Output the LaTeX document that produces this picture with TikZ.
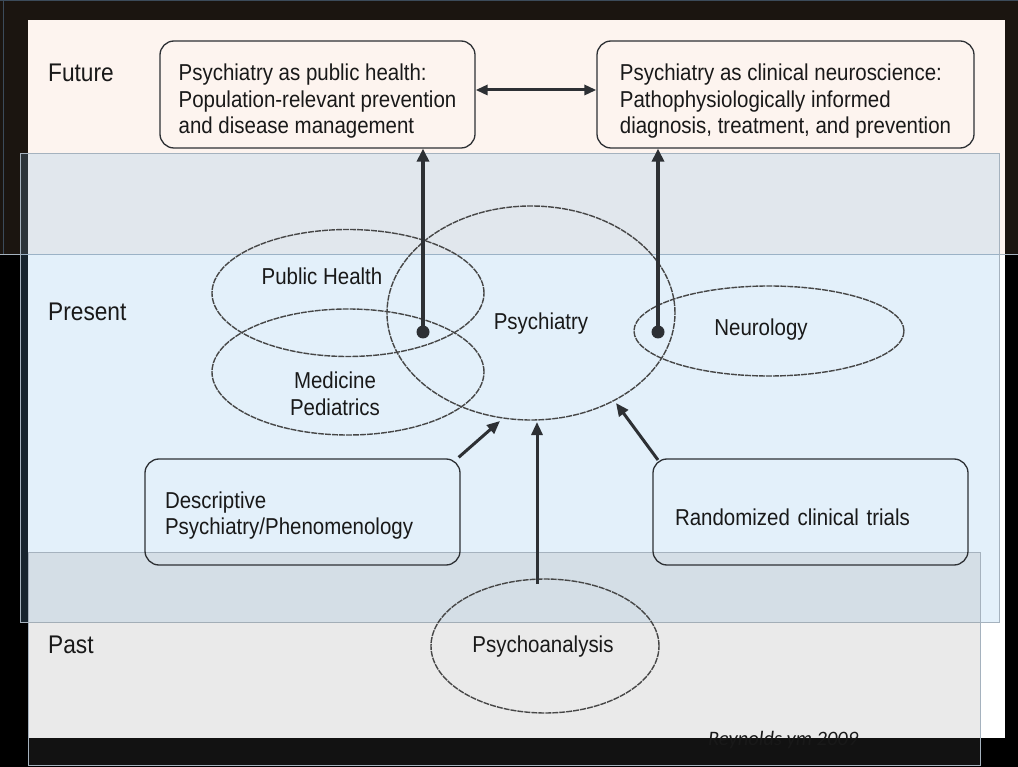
\documentclass[tikz,border=0pt]{standalone}
\usepackage{fontspec}
\setmainfont[FakeStretch=0.89]{Liberation Sans}
\newfontfamily\capfont{Carlito}
\usetikzlibrary{arrows.meta,shapes.geometric}
\definecolor{darkbrown}{RGB}{27,21,16}
\definecolor{edgeblue}{RGB}{60,75,90}
\definecolor{peach}{RGB}{253,244,239}
\definecolor{presentblue}{RGB}{115,180,230}
\definecolor{pastgray}{RGB}{160,160,160}
\definecolor{bandline}{RGB}{165,178,190}
\definecolor{stripdark}{RGB}{18,18,18}
\definecolor{inkc}{RGB}{25,25,25}
\definecolor{linec}{RGB}{45,48,52}
\definecolor{ellc}{RGB}{70,70,70}
\newcommand{\tp}[1]{\rule{0pt}{#1}}
\begin{document}
\begin{tikzpicture}[x=1pt,y=-1pt,
  txt/.style={font=\fontsize{23}{26.5}\selectfont, text=inkc},
  bigtxt/.style={font=\fontsize{25.5}{28}\selectfont, text=inkc, anchor=west, inner sep=0},
  box/.style={txt, draw=linec, line width=1.3pt, rounded corners=14pt, align=left, inner ysep=0pt},
  ell/.style={ellipse, draw=ellc, line width=1.4pt, dash pattern=on 6pt off 1pt, inner sep=0pt},
  lbl/.style={txt, align=center, inner sep=0pt},
  arr/.style={draw=linec, line width=3pt, -{Triangle[length=13pt,width=11pt]}},
  darr/.style={draw=linec, line width=3pt, {Triangle[length=12pt,width=10pt]}-{Triangle[length=12pt,width=10pt]}},
  varr/.style={draw=linec, line width=4pt, -{Triangle[length=13pt,width=12pt]}},
  dotn/.style={circle, fill=linec, minimum size=13pt, inner sep=0pt}
]
\useasboundingbox (0,0) rectangle (1018,767);
% background layers
\fill[black] (0,0) rectangle (1018,767);
\fill[darkbrown] (0,0) rectangle (1018,255);
\draw[edgeblue, line width=1.5pt] (0,0.75) -- (1018,0.75);
\draw[edgeblue, line width=1pt] (3,0) -- (3,255);
\fill[white] (28,20) rectangle (1005,738);
\fill[peach] (28,20) rectangle (1005,255);
\draw[bandline, line width=1pt] (0,255) -- (1018,255);
\fill[presentblue, fill opacity=0.2] (20,153) rectangle (999,622);
\draw[bandline, line width=0.8pt] (20,153) rectangle (999,622);
\fill[pastgray, fill opacity=0.22] (28,552) rectangle (980,738);
\fill[stripdark] (28,738) rectangle (980,765);
\draw[bandline, line width=0.8pt] (28,552) rectangle (980,765);

% period labels
\node[bigtxt] (future) at (48,73) {Future};
\node[bigtxt] (present) at (48,312) {Present};
\node[bigtxt] (past) at (48,645) {Past};

% future boxes
\node[box, minimum width=315pt, minimum height=107pt] (pub) at (317.5,94.5)
  {\tp{30pt}Psychiatry as public health:\\Population-relevant prevention\\and disease management};
\node[box, minimum width=377pt, minimum height=107pt] (neu) at (785.5,94.5)
  {\tp{30pt}Psychiatry as clinical neuroscience:\\Pathophysiologically informed\\diagnosis, treatment, and prevention};

% ellipses
\node[ell, minimum width=272pt, minimum height=127pt,
  label={[lbl, xshift=-26pt, yshift=17pt]center:Public Health}] (ph) at (348,293) {};
\node[ell, minimum width=272pt, minimum height=126pt,
  label={[lbl, xshift=-13pt, yshift=-22pt]center:Medicine\\Pediatrics}] (med) at (348,372) {};
\node[ell, minimum width=288pt, minimum height=214pt,
  label={[lbl, xshift=10pt, yshift=-11pt]center:Psychiatry}] (psy) at (531,313) {};
\node[ell, minimum width=270pt, minimum height=90pt,
  label={[lbl, xshift=-8pt, yshift=1pt]center:Neurology}] (neur) at (769,331) {};
\node[ell, minimum width=228pt, minimum height=134pt,
  label={[lbl, xshift=-2pt, yshift=-1pt]center:Psychoanalysis}] (psa) at (545,646) {};

% present boxes
\node[box, text width=275pt, inner xsep=20pt, minimum height=106pt] (desc) at (302.5,512)
  {\tp{24pt}Descriptive\\Psychiatry/Phenomenology};
\node[box, text width=271pt, inner xsep=22pt, minimum height=106pt] (rct) at (810.5,512)
  {\tp{27pt}Randomized clinical trials};

% dots
\node[dotn] (dot1) at (423,332) {};
\node[dotn] (dot2) at (658,332) {};

% connector end points
\coordinate (d1e) at (500,421);
\coordinate (psas) at (537,584);
\coordinate (psae) at (537,422);
\coordinate (rcts) at (658,460);
\coordinate (rcte) at (616,403);

% connectors
\draw[darr] ([yshift=4.5pt]pub.east) -- ([yshift=4.5pt]neu.west);
\draw[varr] (dot1.center) -- (dot1.center |- pub.south);
\draw[varr] (dot2.center) -- (dot2.center |- neu.south);
\draw[arr] ([xshift=-2pt,yshift=1pt]desc.north east) -- (d1e);
\draw[arr] (psas) -- (psae);
\draw[arr] (rcts) -- (rcte);

% credit
\node[anchor=base west, inner sep=0pt, font=\capfont\itshape\fontsize{20.5}{24}\selectfont, text=black!90] (credit) at (708,745) {Reynolds ym 2009};
\end{tikzpicture}
\end{document}
